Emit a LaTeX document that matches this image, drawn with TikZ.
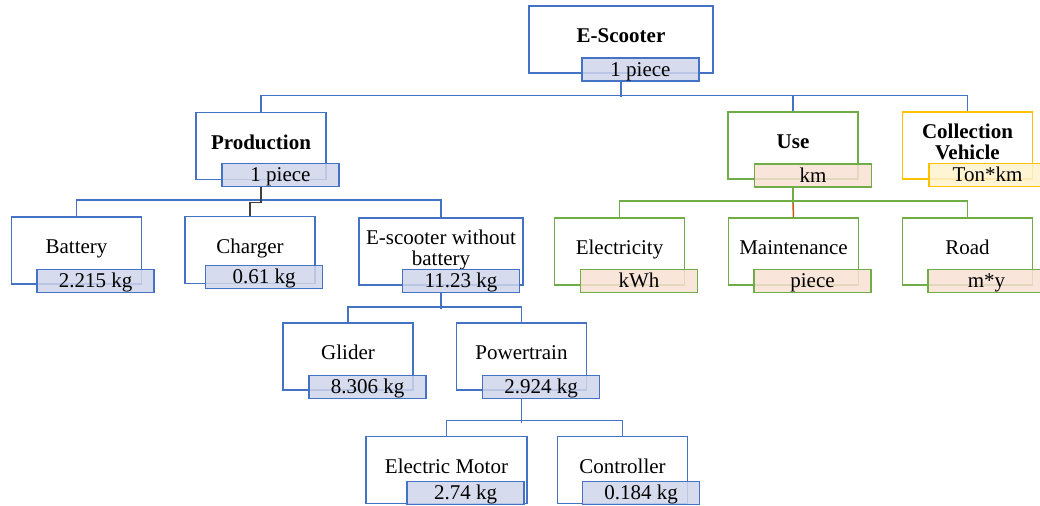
\documentclass[tikz,border=0pt]{standalone}
\usepackage{fontspec}
\setmainfont{Liberation Serif}
\usepackage{tikz}
\usetikzlibrary{positioning,calc}
\definecolor{boxblue}{HTML}{4472C4}
\definecolor{unitblue}{HTML}{CFD5EA}
\definecolor{boxgreen}{HTML}{70AD47}
\definecolor{unitpeach}{HTML}{F8E0D3}
\definecolor{boxyellow}{HTML}{FFC000}
\definecolor{unityellow}{HTML}{FFF2CC}
\definecolor{linkorange}{HTML}{C55A11}
\definecolor{linkdark}{HTML}{404040}

\begin{document}
\begin{tikzpicture}[x=0.5pt,y=-0.5pt,font=\fontsize{10.5}{10.5}\selectfont,
    item node/.style={draw=boxblue,line width=.75pt,minimum width=65pt,minimum height=33.5pt,inner sep=1pt,align=center,text depth=4pt},
    unit node/.style={draw=boxblue,fill=unitblue,fill opacity=.85,text opacity=1,line width=.75pt,minimum width=58.5pt,minimum height=11pt,inner sep=0pt,text height=9pt,text depth=2.3pt},
    green item/.style={draw=boxgreen},
    green unit/.style={draw=boxgreen,fill=unitpeach},
    yellow item/.style={draw=boxyellow},
    yellow unit/.style={draw=boxyellow,fill=unityellow},
    blue link/.style={draw=boxblue,line width=.75pt},
    green link/.style={draw=boxgreen,line width=.75pt},
    orange link/.style={draw=linkorange,line width=.75pt},
    dark link/.style={draw=linkdark,line width=.75pt}]
    \useasboundingbox (0,0) rectangle (1040,506);

    % top level
    \node[item node,minimum width=92pt] (scooter) at (621,39.5) {\textbf{E-Scooter}};
    \node[unit node] (scooter-u) at (640.5,69.5) {1 piece};

    % life cycle stages
    \node[item node] (prod) at (261,146) {\textbf{Production}};
    \node[unit node] (prod-u) at (280.5,175) {1 piece};
    \node[item node,green item] (use) at (793,145.5) {\textbf{Use}};
    \node[unit node,green unit] (use-u) at (813,175.5) {km};
    \node[item node,yellow item] (coll) at (967.5,145.5) {\textbf{Collection}\\\textbf{Vehicle}};
    \node[unit node,yellow unit] (coll-u) at (987.5,175) {Ton*km};

    % production parts
    \node[item node] (bat) at (76.5,250.5) {Battery};
    \node[unit node] (bat-u) at (95.5,281) {2.215 kg};
    \node[item node] (chg) at (250,250) {Charger};
    \node[unit node] (chg-u) at (264,277) {0.61 kg};
    \node[item node,minimum width=82pt] (frame) at (441,251.5) {E-scooter without\\battery};
    \node[unit node] (frame-u) at (461,281) {11.23 kg};

    % use parts
    \node[item node,green item] (elec) at (619.5,251.5) {Electricity};
    \node[unit node,green unit] (elec-u) at (639,281) {kWh};
    \node[item node,green item] (maint) at (793.5,251.5) {Maintenance};
    \node[unit node,green unit] (maint-u) at (812.5,281) {piece};
    \node[item node,green item] (road) at (967.5,251.5) {Road};
    \node[unit node,green unit] (road-u) at (986.5,281) {m*y};

    % scooter without battery
    \node[item node] (glider) at (348,356.5) {Glider};
    \node[unit node] (glider-u) at (367.5,387) {8.306 kg};
    \node[item node] (ptrain) at (521.5,356.5) {Powertrain};
    \node[unit node] (ptrain-u) at (541,387) {2.924 kg};
    \node[item node,minimum width=80.5pt] (motor) at (446.5,470) {Electric Motor};
    \node[unit node] (motor-u) at (465.5,493) {2.74 kg};
    \node[item node] (ctrl) at (622.5,470) {Controller};
    \node[unit node] (ctrl-u) at (641,493) {0.184 kg};

    \draw[blue link] (scooter |- scooter-u.south) -- ++(0,15);
    \draw[blue link] (prod.north) -- ++(0,-16) -| (coll.north);
    \draw[blue link] (use.north) -- ++(0,-16);
    \draw[blue link] (bat.north) -- ++(0,-16) -| (frame.north);
    \draw[dark link] (prod |- prod-u.south) -- ++(0,15.5) -| (chg.north);
    \draw[blue link] (frame |- frame-u.south) -- ++(0,16);
    \draw[blue link] (glider.north) -- ++(0,-15) -| (ptrain.north);
    \draw[blue link] (ptrain |- ptrain-u.south) -- ++(0,24);
    \draw[blue link] (motor.north) -- ++(0,-15) -| (ctrl.north);
    \draw[green link] (elec.north) -- ++(0,-16) -| (road.north);
    \draw[green link] (use |- use-u.south) -- ++(0,16) coordinate (use-bus);
    \draw[orange link] (use-bus) -- (maint.north);
\end{tikzpicture}
\end{document}
